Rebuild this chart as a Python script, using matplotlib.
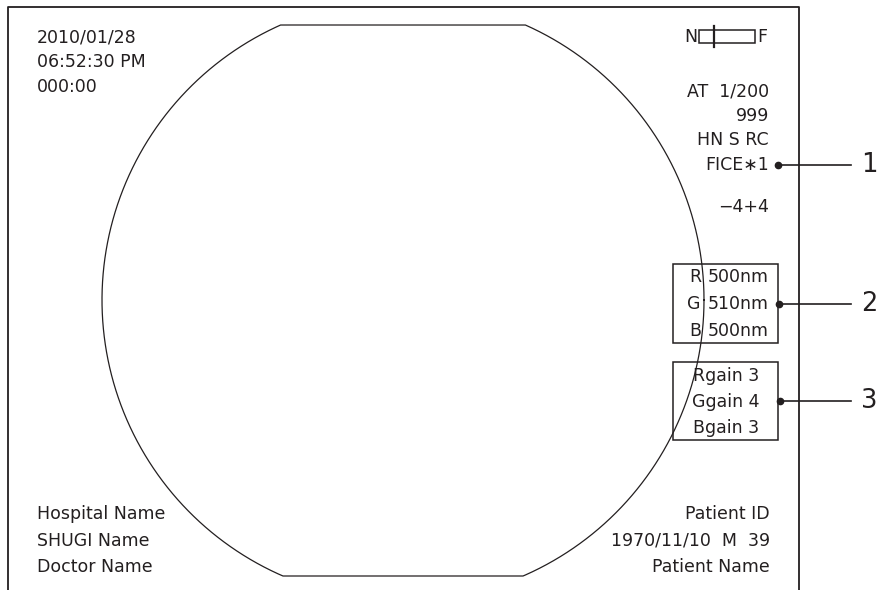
import numpy as np
import matplotlib
matplotlib.use("Agg")
import matplotlib.pyplot as plt
from matplotlib.patches import Rectangle

plt.rcParams['font.family'] = ['DejaVu Sans']

# screen texts
top_left = ['2010/01/28', '06:52:30 PM', '000:00']
top_right = ['AT  1/200', '999', 'HN S RC', 'FICE\u22171', '\u22124+4']
bottom_left = ['Hospital Name', 'SHUGI Name', 'Doctor Name']
bottom_right = ['Patient ID', '1970/11/10  M  39', 'Patient Name']
channels = ['R', 'G', 'B']
wavelengths = [500, 510, 500]
gains = [3, 4, 3]
callouts = ['1', '2', '3']

ink = '#231f20'
fs = 12.5

fig = plt.figure(figsize=(8.8, 5.9), dpi=100)
ax = fig.add_axes([0, 0, 1, 1])
ax.set_xlim(0, 880)
ax.set_ylim(590, 0)
ax.axis('off')

# monitor frame (open at bottom)
ax.plot([8, 8, 799, 799], [590, 7, 7, 590], color=ink, lw=1.3)

# endoscope image area: circle cut flat at top and bottom
t = np.linspace(0, 2 * np.pi, 721)
cx, cy, r = 403, 300, 301
ax.plot(cx + r * np.cos(t), np.clip(cy + r * np.sin(t), 25, 576), color=ink, lw=0.9)

# left column
for i, s in enumerate(top_left):
    ax.text(37, 37 + 25 * i, s, fontsize=fs, color=ink, va='center', ha='left')
for i, s in enumerate(bottom_left):
    ax.text(37, 514 + 26.5 * i, s, fontsize=fs, color=ink, va='center', ha='left')
for i, s in enumerate(bottom_right):
    ax.text(770, 514 + 26.5 * i, s, fontsize=fs, color=ink, va='center', ha='right')

# N-F indicator
ax.text(697, 37, 'N', fontsize=fs, color=ink, va='center', ha='right')
ax.text(757, 37, 'F', fontsize=fs, color=ink, va='center', ha='left')
ax.add_patch(Rectangle((699, 30), 56, 13, fill=False, ec=ink, lw=1.1))
ax.plot([714, 714], [26, 47], color=ink, lw=1.6)

right_y = [92, 116, 140, 165, 207]
for y, s in zip(right_y, top_right):
    ax.text(769, y, s, fontsize=fs, color=ink, va='center', ha='right')

# wavelength box
ax.add_patch(Rectangle((673, 264), 105, 79, fill=False, ec=ink, lw=1.1))
for i, (c, w) in enumerate(zip(channels, wavelengths)):
    y = 277 + 27 * i
    ax.text(701, y, c, fontsize=fs, color=ink, va='center', ha='right')
    ax.text(769, y, f'{w}nm', fontsize=fs, color=ink, va='center', ha='right')

# gain box
ax.add_patch(Rectangle((673, 362), 105, 78, fill=False, ec=ink, lw=1.1))
for i, (c, g) in enumerate(zip(channels, gains)):
    ax.text(726, 376 + 26 * i, f'{c}gain {g}', fontsize=fs, color=ink, va='center', ha='center')

# leader lines
for lab, y, x0 in zip(callouts, [165, 304, 401], [778, 779, 780]):
    ax.plot([x0, 851], [y, y], color=ink, lw=1.2)
    ax.plot(x0, y, 'o', color=ink, ms=4.5)
    ax.text(861, y, lab, fontsize=18.5, color=ink, va='center', ha='left')

fig.savefig('out.png', dpi=100, facecolor='white')
